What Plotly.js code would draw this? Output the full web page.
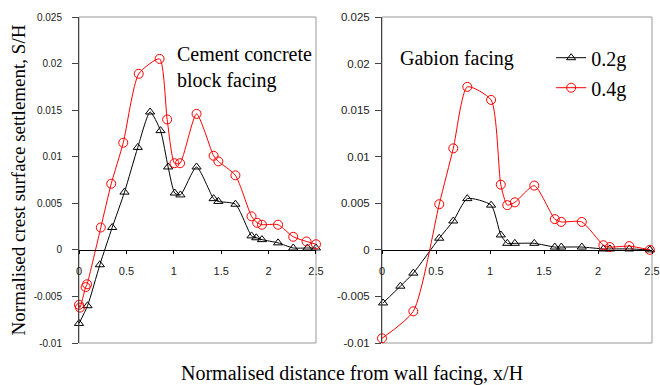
<!DOCTYPE html>
<html><head><meta charset="utf-8">
<script src="https://cdn.plot.ly/plotly-3.0.1.min.js"></script>
<style>html,body{margin:0;padding:0;background:#fff}</style>
</head><body><div id="chart" style="width:660px;height:385px"></div>
<script>
// Left panel: cement concrete block facing
const ccX04 = [0, 0.01, 0.07, 0.085, 0.23, 0.34, 0.467, 0.63, 0.85, 0.93, 1.007, 1.066, 1.24, 1.42, 1.47, 1.65, 1.82, 1.88, 1.93, 2.1, 2.26, 2.40, 2.5];
const ccY04 = [-0.0059, -0.0062, -0.0040, -0.0037, 0.0024, 0.0071, 0.0115, 0.0189, 0.0205, 0.0140, 0.0093, 0.0093, 0.0146, 0.0101, 0.0095, 0.0080, 0.0036, 0.0029, 0.0027, 0.0027, 0.0014, 0.0009, 0.0006];
const ccX02 = [0, 0.09, 0.22, 0.35, 0.48, 0.62, 0.75, 0.86, 0.94, 1.01, 1.07, 1.24, 1.42, 1.47, 1.65, 1.82, 1.87, 1.93, 2.1, 2.26, 2.41, 2.5];
const ccY02 = [-0.0079, -0.0060, -0.0016, 0.0024, 0.0062, 0.0110, 0.0148, 0.0128, 0.0089, 0.0061, 0.0059, 0.0089, 0.0055, 0.0052, 0.0049, 0.0015, 0.0013, 0.0011, 0.00075, 0.0002, 0.0002, 0.0002];
// Right panel: gabion facing
const gbX04 = [0, 0.29, 0.53, 0.66, 0.79, 1.01, 1.10, 1.16, 1.23, 1.41, 1.60, 1.66, 1.85, 2.05, 2.11, 2.29, 2.48];
const gbY04 = [-0.0095, -0.0066, 0.0049, 0.0109, 0.0175, 0.0161, 0.0070, 0.0048, 0.0051, 0.0069, 0.0033, 0.0030, 0.0030, 0.0005, 0.0003, 0.0004, 0.0];
const gbX02 = [0.01, 0.17, 0.29, 0.53, 0.66, 0.79, 1.01, 1.10, 1.16, 1.23, 1.41, 1.60, 1.66, 1.85, 2.05, 2.11, 2.29, 2.48];
const gbY02 = [-0.0057, -0.0039, -0.0025, 0.00125, 0.0031, 0.0055, 0.0048, 0.0016, 0.0007, 0.0007, 0.0007, 0.0003, 0.0003, 0.0003, 0.0001, 0.0001, 0.0001, 0.0];

const seriesNames = ['0.2g', '0.4g'];
const xTickVals = [0, 0.5, 1, 1.5, 2, 2.5];
const xTickText = ['0', '0.5', '1', '1.5', '2', '2.5'];
const yTickVals = [-0.01, -0.005, 0, 0.005, 0.01, 0.015, 0.02, 0.025];
const yTickText = ['-0.01', '-0.005', '0', '0.005', '0.01', '0.015', '0.02', '0.025'];

const blackStyle = {
  mode: 'lines+markers',
  line: {color: '#000000', width: 1, shape: 'spline', smoothing: 0.6},
  marker: {symbol: 'triangle-up-open', size: 8, color: '#000000', line: {width: 1, color: '#000000'}},
  cliponaxis: false
};
const redStyle = {
  mode: 'lines+markers',
  line: {color: '#ff0000', width: 1, shape: 'spline', smoothing: 0.6},
  marker: {symbol: 'circle-open', size: 9, color: '#ff0000', line: {width: 1, color: '#ff0000'}},
  cliponaxis: false
};

const traces = [
  Object.assign({x: ccX02, y: ccY02, xaxis: 'x', yaxis: 'y', name: seriesNames[0], showlegend: false}, blackStyle),
  Object.assign({x: ccX04, y: ccY04, xaxis: 'x', yaxis: 'y', name: seriesNames[1], showlegend: false}, redStyle),
  Object.assign({x: gbX02, y: gbY02, xaxis: 'x2', yaxis: 'y2', name: seriesNames[0], legendgroup: 'a'}, blackStyle),
  Object.assign({x: gbX04, y: gbY04, xaxis: 'x2', yaxis: 'y2', name: seriesNames[1], legendgroup: 'b'}, redStyle)
];

const serif = 'Liberation Serif, Times New Roman, serif';
const tickFontY = {family: 'Liberation Sans, Arial, sans-serif', size: 10, color: '#222'};
const tickFontX = {family: 'Liberation Sans, Arial, sans-serif', size: 11, color: '#222'};
const zeroPos = 0.01 / 0.035;

function xAxis(domain) {
  return {
    domain: domain, range: [0, 2.5], anchor: 'free', position: zeroPos,
    tickvals: xTickVals, ticktext: xTickText, ticks: 'outside', ticklen: 3, tickcolor: '#000',
    showline: true, linecolor: '#000', linewidth: 1, showgrid: false, zeroline: false,
    tickfont: tickFontX, ticklabelstandoff: 8, fixedrange: true
  };
}
function yAxis(anchor, font, standoff) {
  return {
    anchor: anchor, domain: [0, 1], range: [-0.01, 0.025],
    tickvals: yTickVals, ticktext: yTickText, ticks: 'outside', ticklen: 6, tickcolor: '#444',
    showline: true, linecolor: '#444', linewidth: 1, showgrid: false, zeroline: false,
    tickfont: font, ticklabelstandoff: standoff, fixedrange: true
  };
}

const ya = yAxis('x', tickFontY, 8);
ya.title = {text: 'Normalised crest surface settlement, S/H', font: {family: serif, size: 19, color: '#000'}, standoff: 2};
const ya2 = yAxis('x2', {family: 'Liberation Sans, Arial, sans-serif', size: 11.5, color: '#222'}, 3);

const layout = {
  width: 660, height: 385,
  margin: {l: 79, r: 8, t: 17, b: 42},
  paper_bgcolor: '#ffffff', plot_bgcolor: '#ffffff',
  xaxis: xAxis([0, 0.4136]),
  yaxis: ya,
  xaxis2: xAxis([0.5288, 1]),
  yaxis2: ya2,
  showlegend: true,
  legend: {x: 0.824, y: 0.935, xanchor: 'left', yanchor: 'top', bgcolor: 'rgba(0,0,0,0)',
    font: {family: serif, size: 20, color: '#000'},
    traceorder: 'grouped', tracegroupgap: 1},
  shapes: [
    {type: 'rect', xref: 'x domain', yref: 'y domain', x0: 0, x1: 1, y0: 0, y1: 1, line: {color: '#999', width: 1}, layer: 'below'},
    {type: 'rect', xref: 'x2 domain', yref: 'y2 domain', x0: 0, x1: 1, y0: 0, y1: 1, line: {color: '#999', width: 1}, layer: 'below'}
  ],
  annotations: [
    {text: 'Cement concrete<br>block facing', xref: 'paper', yref: 'paper', x: (175 - 79) / 573, y: (343 - 41) / 326,
     xanchor: 'left', yanchor: 'top', align: 'left', showarrow: false,
     font: {family: serif, size: 20, color: '#000'}},
    {text: 'Gabion facing', xref: 'paper', yref: 'paper', x: (398 - 79) / 573, y: (343 - 45) / 326,
     xanchor: 'left', yanchor: 'top', align: 'left', showarrow: false,
     font: {family: serif, size: 20, color: '#000'}},
    {text: 'Normalised distance from wall facing, x/H', xref: 'paper', yref: 'paper', x: (352 - 79) / 573, y: (343 - 373) / 326,
     xanchor: 'center', yanchor: 'middle', showarrow: false,
     font: {family: serif, size: 20, color: '#000'}}
  ]
};

Plotly.newPlot('chart', traces, layout, {staticPlot: true, displayModeBar: false});
</script>
</body></html>
